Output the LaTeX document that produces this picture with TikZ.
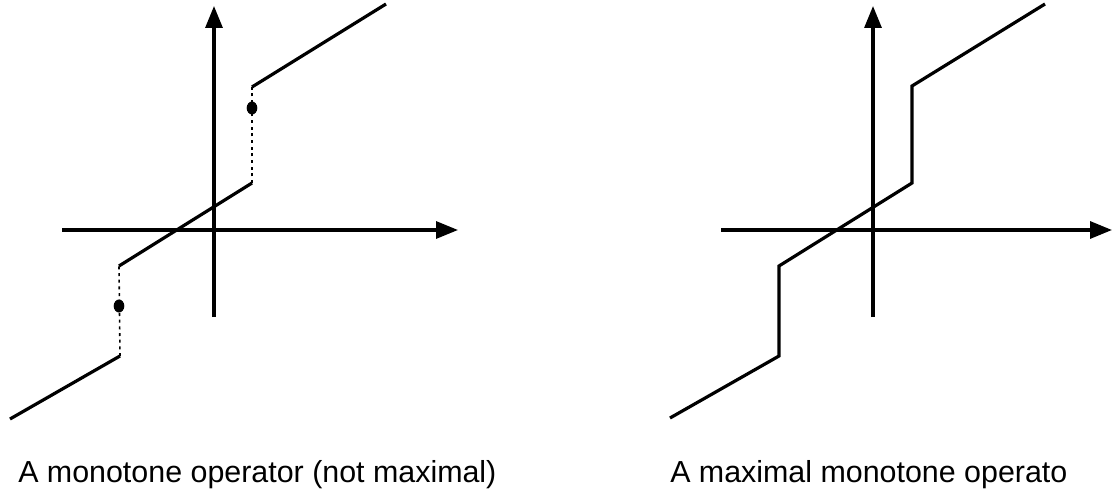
\documentclass[tikz,border=0pt]{standalone}
\usepackage{fontspec}
\setmainfont{Liberation Sans}
\usetikzlibrary{arrows.meta}
\begin{document}
\begin{tikzpicture}[x=0.75pt,y=-0.75pt,
  axis/.style={line width=2.4pt,-{Triangle[length=16.5pt,width=12.75pt]}},
  graph/.style={line width=2.4pt},
  dotline/.style={line width=1.2pt,dash pattern=on 2.2pt off 2.8pt},
  blob/.style={fill=black},
  caption/.style={anchor=base west,inner sep=0pt,font=\fontsize{22.8}{27}\selectfont}]
\useasboundingbox (0,0) rectangle (1112,495);
% ---- left figure ----
\coordinate (LxS) at (62,230);
\coordinate (LxE) at (458,230);
\coordinate (LyS) at (214,317);
\coordinate (LyE) at (214,6);
\draw[axis] (LxS) -- (LxE);
\draw[axis] (LyS) -- (LyE);
\coordinate (La) at (10,419);
\coordinate (Lb) at (120,356);
\coordinate (Lc) at (119,266);
\coordinate (Ld) at (252,183);
\coordinate (Le) at (252,87);
\coordinate (Lf) at (386,4);
\draw[graph] (La) -- (Lb);
\draw[graph] (Lc) -- (Ld);
\draw[graph] (Le) -- (Lf);
\draw[dotline] (Lb) -- (Lc);
\draw[dotline] (Ld) -- (Le);
\fill[blob] (252,108) ellipse [x radius=5.3, y radius=6.5];
\fill[blob] (119,306) ellipse [x radius=5.3, y radius=6.5];
\node[caption] (capL) at (18,482) {A monotone operator (not maximal)};
% ---- right figure ----
\coordinate (RxS) at (721,230);
\coordinate (RxE) at (1112,230);
\coordinate (RyS) at (873,317);
\coordinate (RyE) at (873,6);
\draw[axis] (RxS) -- (RxE);
\draw[axis] (RyS) -- (RyE);
\coordinate (Ra) at (670,418);
\coordinate (Rb) at (779,356);
\coordinate (Rc) at (779,266);
\coordinate (Rd) at (912,183);
\coordinate (Re) at (912,86);
\coordinate (Rf) at (1045,4);
\draw[graph,line join=miter] (Ra) -- (Rb) -- (Rc) -- (Rd) -- (Re) -- (Rf);
\node[caption] (capR) at (670,482) {A maximal monotone operato};
\end{tikzpicture}
\end{document}
